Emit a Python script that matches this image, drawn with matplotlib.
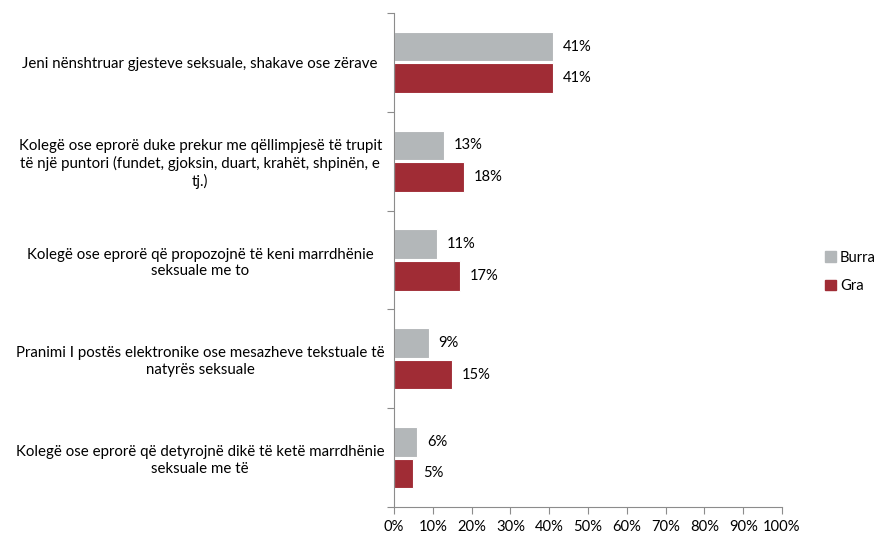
import matplotlib
matplotlib.use("Agg")
import matplotlib.pyplot as plt
from matplotlib.ticker import FixedLocator

plt.rcParams['font.family'] = ['Lato', 'DejaVu Sans']

categories = [
    "Jeni nënshtruar gjesteve seksuale, shakave ose zërave",
    "Kolegë ose eprorë duke prekur me qëllimpjesë të trupit\ntë një puntori (fundet, gjoksin, duart, krahët, shpinën, e\ntj.)",
    "Kolegë ose eprorë që propozojnë të keni marrdhënie\nseksuale me to",
    "Pranimi I postës elektronike ose mesazheve tekstuale të\nnatyrës seksuale",
    "Kolegë ose eprorë që detyrojnë dikë të ketë marrdhënie\nseksuale me të",
]
burra = [41, 13, 11, 9, 6]
gra = [41, 18, 17, 15, 5]
series_names = ["Burra", "Gra"]
x_ticks = list(range(0, 101, 10))

c_burra = "#B3B7B9"
c_gra = "#A02C35"
axis_col = "#8C8C8C"

fig = plt.figure(figsize=(8.77, 5.35), dpi=100)
ax = fig.add_axes([394 / 877, 1 - 507 / 535, 388 / 877, 494 / 535])

n = len(categories)
centers = [i + 0.5 for i in range(n)]
h = 0.3
for i, (b, g) in enumerate(zip(burra, gra)):
    yc = centers[i]
    ax.barh(yc - h / 2 - 0.01, b, height=h, color=c_burra, edgecolor="white", linewidth=0.8)
    ax.barh(yc + h / 2 + 0.01, g, height=h, color=c_gra, edgecolor="white", linewidth=0.8)
    ax.annotate(f"{b}%", (b, yc - h / 2 - 0.01), xytext=(7, 0), textcoords="offset points",
                va="center", ha="left", fontsize=10.6, color="black")
    ax.annotate(f"{g}%", (g, yc + h / 2 + 0.01), xytext=(7, 0), textcoords="offset points",
                va="center", ha="left", fontsize=10.6, color="black")

ax.set_xlim(0, 100)
ax.set_ylim(n, 0)
ax.set_xticks(x_ticks)
ax.set_xticklabels([f"{t}%" for t in x_ticks], fontsize=10.6)
ax.set_yticks(centers)
ax.set_yticklabels(categories, fontsize=10.8, multialignment="center", ha="center",
                   linespacing=1.25)
ax.yaxis.set_minor_locator(FixedLocator(list(range(n + 1))))
ax.tick_params(axis="y", which="major", length=0, pad=139.5)
ax.tick_params(axis="y", which="minor", length=5, color=axis_col, width=0.8)
ax.tick_params(axis="x", length=5, color=axis_col, width=0.8, pad=4.5)

for s in ["top", "right"]:
    ax.spines[s].set_visible(False)
for s in ["left", "bottom"]:
    ax.spines[s].set_color(axis_col)
    ax.spines[s].set_linewidth(0.8)

handles = [plt.Rectangle((0, 0), 1, 1, color=c_burra), plt.Rectangle((0, 0), 1, 1, color=c_gra)]
fig.legend(handles, series_names, loc="center left", bbox_to_anchor=(818 / 877, 1 - 272 / 535),
           frameon=False, fontsize=10.6, handlelength=0.7, handleheight=0.7,
           handletextpad=0.3, labelspacing=1.0, borderpad=0)

fig.savefig("out.png", dpi=100, facecolor="white")
